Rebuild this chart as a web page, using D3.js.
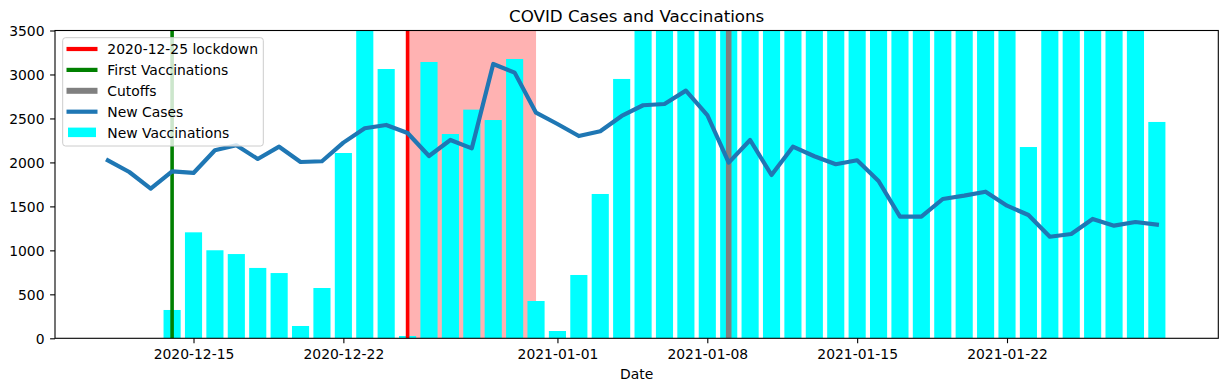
<!DOCTYPE html>
<html>
<head>
<meta charset="utf-8">
<script src="https://cdn.jsdelivr.net/npm/d3@7"></script>
<style>
  html, body { margin: 0; padding: 0; background: #fff; }
  svg { display: block; font-family: "DejaVu Sans", sans-serif; }
  svg text { font-family: "DejaVu Sans", sans-serif; }
</style>
</head>
<body>
<svg id="chart" width="1227" height="391"></svg>
<script>
// ---------------- data ----------------
const caseStart = "2020-12-11";
const newCases = [2024, 1891, 1701, 1899, 1880, 2138, 2195, 2039, 2179, 2005,
  2013, 2225, 2388, 2426, 2335, 2073, 2255, 2160, 3119, 3021,
  2566, 2437, 2300, 2354, 2528, 2650, 2664, 2816, 2539, 1997,
  2255, 1857, 2179, 2070, 1979, 2024, 1789, 1383, 1383, 1584,
  1622, 1667, 1508, 1402, 1155, 1186, 1357, 1281, 1322, 1292];

const vaccStart = "2020-12-14";
// values above 3500 are clipped in the reference (estimated)
const newVaccinations = [322, 1205, 1001, 958, 800, 742, 140, 572, 2107, 3800,
  3062, 26, 3142, 2323, 2600, 2482, 3176, 424, 83, 720,
  1641, 2949, 4200, 5100, 5600, 6000, 4400, 5200, 6100, 6500,
  6800, 7000, 7200, 6900, 5300, 7100, 7400, 7600, 7300, 5000,
  2175, 4300, 6200, 6600, 6900, 4700, 2460];

const lockdownDate = "2020-12-25";
const lockdownSpan = ["2020-12-25", "2020-12-31"];
const firstVaccDate = "2020-12-14";
const cutoffDates = ["2021-01-09"];

const xTickLabels = ["2020-12-15", "2020-12-22", "2021-01-01", "2021-01-08", "2021-01-15", "2021-01-22"];
const yTicks = [0, 500, 1000, 1500, 2000, 2500, 3000, 3500];

const legendLabels = ["2020-12-25 lockdown", "First Vaccinations", "Cutoffs", "New Cases", "New Vaccinations"];
const titleText = "COVID Cases and Vaccinations";
const xLabel = "Date";

// ---------------- helpers ----------------
const DAY = 86400000;
const parse = s => new Date(s + "T00:00:00Z");
const addDays = (d, n) => new Date(d.getTime() + n * DAY);
const caseDates = newCases.map((_, i) => addDays(parse(caseStart), i));
const vaccDates = newVaccinations.map((_, i) => addDays(parse(vaccStart), i));

// ---------------- layout ----------------
const L = 55, R = 1218.3, T = 30.5, B = 338.3;
const FONT = "DejaVu Sans, sans-serif";
const svg = d3.select("#chart");

// matplotlib-like auto margins (5%)
const xMin = d3.min([caseDates[0], addDays(vaccDates[0], -0.4)]);
const xMax = d3.max([caseDates[caseDates.length - 1], addDays(vaccDates[vaccDates.length - 1], 0.4)]);
const span = xMax - xMin;
const x = d3.scaleUtc()
  .domain([new Date(+xMin - span * 0.05), new Date(+xMax + span * 0.05)])
  .range([L, R]);
const y = d3.scaleLinear().domain([0, 3500]).range([B, T]);

svg.append("defs").append("clipPath").attr("id", "plotclip")
  .append("rect").attr("x", L).attr("y", T).attr("width", R - L).attr("height", B - T);

const plot = svg.append("g").attr("clip-path", "url(#plotclip)");

// lockdown span
plot.append("rect")
  .attr("x", x(parse(lockdownSpan[0])))
  .attr("y", T)
  .attr("width", x(parse(lockdownSpan[1])) - x(parse(lockdownSpan[0])))
  .attr("height", B - T)
  .attr("fill", "red").attr("fill-opacity", 0.3);

// bars
const bw = x(addDays(parse(vaccStart), 0.8)) - x(parse(vaccStart));
plot.selectAll("rect.bar").data(newVaccinations).join("rect")
  .attr("class", "bar")
  .attr("x", (d, i) => x(vaccDates[i]) - bw / 2)
  .attr("width", bw)
  .attr("y", d => y(d))
  .attr("height", d => y(0) - y(d))
  .attr("fill", "#00ffff");

// vertical lines
function vline(dateStr, color, w) {
  const xx = x(parse(dateStr));
  plot.append("line").attr("x1", xx).attr("x2", xx).attr("y1", T).attr("y2", B)
    .attr("stroke", color).attr("stroke-width", w);
}
vline(lockdownDate, "red", 3.6);
vline(firstVaccDate, "green", 3.6);
cutoffDates.forEach(d => vline(d, "grey", 5.6));

// cases line
const line = d3.line().x((d, i) => x(caseDates[i])).y(d => y(d));
plot.append("path").datum(newCases)
  .attr("d", line)
  .attr("fill", "none")
  .attr("stroke", "#1f77b4")
  .attr("stroke-width", 4.2)
  .attr("stroke-linejoin", "round")
  .attr("stroke-linecap", "square");

// frame
svg.append("rect").attr("x", L).attr("y", T).attr("width", R - L).attr("height", B - T)
  .attr("fill", "none").attr("stroke", "#000").attr("stroke-width", 1.1);

// axes
const xAxis = d3.axisBottom(x)
  .tickValues(xTickLabels.map(parse))
  .tickFormat(d3.utcFormat("%Y-%m-%d"))
  .tickSize(4.9).tickPadding(5);
const gx = svg.append("g").attr("transform", `translate(0,${B})`).call(xAxis)
  .attr("font-size", 13.9).attr("font-family", FONT);
gx.select(".domain").remove();
gx.selectAll(".tick line").attr("stroke", "#000").attr("stroke-width", 1.1);
gx.selectAll(".tick text").style("font-size", "13.9px").attr("fill", "#000")
  .attr("dy", null).attr("y", 20.7);

const yAxis = d3.axisLeft(y).tickValues(yTicks).tickFormat(d3.format("d")).tickSize(4.9).tickPadding(5);
const gy = svg.append("g").attr("transform", `translate(${L},0)`).call(yAxis)
  .attr("font-size", 13.9).attr("font-family", FONT);
gy.select(".domain").remove();
gy.selectAll(".tick line").attr("stroke", "#000").attr("stroke-width", 1.1);
gy.selectAll(".tick text").style("font-size", "13.9px").attr("fill", "#000")
  .attr("x", -10.5).attr("dy", "0.34em");

// title & label
svg.append("text").attr("x", (L + R) / 2).attr("y", 22).attr("text-anchor", "middle")
  .style("font-size", "16.7px").attr("fill", "#000").text(titleText);
svg.append("text").attr("x", (L + R) / 2).attr("y", 379).attr("text-anchor", "middle")
  .style("font-size", "13.9px").attr("fill", "#000").text(xLabel);

// legend
const lg = svg.append("g");
lg.append("rect").attr("x", 62.7).attr("y", 37.7).attr("width", 200.6).attr("height", 108.3)
  .attr("rx", 2.8).attr("fill", "#fff").attr("fill-opacity", 0.8)
  .attr("stroke", "#cccccc").attr("stroke-width", 1);
const legendStyles = [
  { type: "line", color: "red", w: 4.2 },
  { type: "line", color: "green", w: 4.2 },
  { type: "line", color: "grey", w: 6 },
  { type: "line", color: "#1f77b4", w: 4.2 },
  { type: "rect", color: "#00ffff" }
];
legendLabels.forEach((lab, i) => {
  const cy = 49 + i * 20.9;
  const s = legendStyles[i];
  if (s.type === "line") {
    lg.append("line").attr("x1", 66.5).attr("x2", 97.5).attr("y1", cy).attr("y2", cy)
      .attr("stroke", s.color).attr("stroke-width", s.w);
  } else {
    lg.append("rect").attr("x", 68).attr("y", cy - 5).attr("width", 28).attr("height", 9.5)
      .attr("fill", s.color);
  }
  lg.append("text").attr("x", 107.3).attr("y", cy + 5.1).style("font-size", "13.9px")
    .attr("fill", "#000").text(lab);
});
</script>
</body>
</html>
